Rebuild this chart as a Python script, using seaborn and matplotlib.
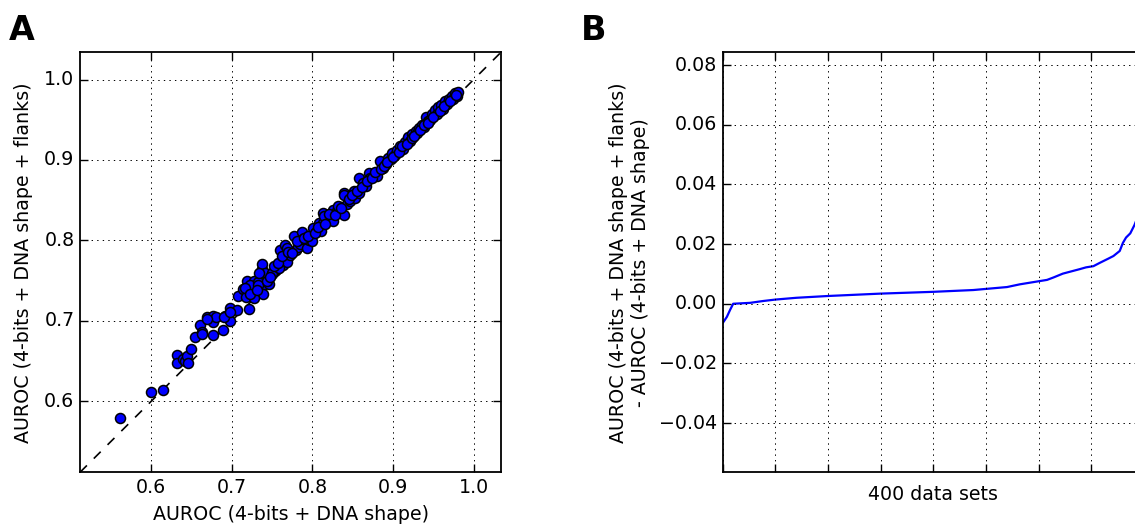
import numpy as np
import pandas as pd
import matplotlib
matplotlib.use("Agg")
import matplotlib.pyplot as plt
import seaborn as sns

# Panel A: AUROC per data set, without vs with flanks
auroc_shape = [0.5615, 0.5996, 0.6145, 0.632, 0.632, 0.639, 0.642, 0.644, 0.646, 0.649,
               0.654, 0.661, 0.663, 0.669, 0.677, 0.677, 0.677, 0.680, 0.689, 0.691,
               0.698, 0.698, 0.706, 0.721, 0.708, 0.714, 0.719, 0.727, 0.717, 0.727,
               0.729, 0.737, 0.737, 0.739, 0.739, 0.736, 0.744, 0.746, 0.724, 0.722,
               0.732, 0.741, 0.750, 0.753, 0.756, 0.760, 0.764, 0.760, 0.766, 0.764,
               0.768, 0.772, 0.777, 0.779, 0.782, 0.785, 0.787, 0.788, 0.793, 0.796,
               0.799, 0.800, 0.801, 0.805, 0.808, 0.810, 0.813, 0.813, 0.818, 0.822,
               0.826, 0.826, 0.830, 0.834, 0.839, 0.839, 0.843, 0.847, 0.851, 0.853,
               0.858, 0.858, 0.863, 0.866, 0.870, 0.872, 0.876, 0.880, 0.884, 0.887,
               0.891, 0.894, 0.897, 0.899, 0.902, 0.905, 0.909, 0.912, 0.915, 0.919,
               0.921, 0.924, 0.928, 0.930, 0.932, 0.936, 0.939, 0.941, 0.943, 0.946,
               0.948, 0.952, 0.954, 0.956, 0.960, 0.962, 0.965, 0.967, 0.969, 0.973,
               0.975, 0.977, 0.979, 0.981, 0.733, 0.727, 0.750, 0.759, 0.768, 0.814,
               0.839, 0.663, 0.669, 0.690, 0.698,
               0.752, 0.757, 0.762, 0.770, 0.775, 0.781, 0.790, 0.795, 0.803, 0.807,
               0.816, 0.820, 0.828, 0.832, 0.836, 0.845, 0.849, 0.855, 0.861, 0.868,
               0.874, 0.878, 0.885, 0.889, 0.893, 0.900, 0.907, 0.911, 0.917, 0.923,
               0.926, 0.934, 0.938, 0.944, 0.950, 0.958, 0.963, 0.971, 0.978, 0.716,
               0.723, 0.731, 0.743, 0.747, 0.734]
auroc_flanks = [0.579, 0.6115, 0.6144, 0.658, 0.648, 0.652, 0.650, 0.656, 0.648, 0.665,
                0.680, 0.695, 0.686, 0.705, 0.706, 0.682, 0.698, 0.705, 0.688, 0.706,
                0.716, 0.700, 0.713, 0.715, 0.731, 0.739, 0.749, 0.749, 0.729, 0.731,
                0.740, 0.765, 0.771, 0.744, 0.733, 0.752, 0.757, 0.746, 0.735, 0.745,
                0.748, 0.760, 0.758, 0.762, 0.765, 0.770, 0.769, 0.788, 0.794, 0.778,
                0.773, 0.782, 0.805, 0.788, 0.792, 0.796, 0.811, 0.802, 0.790, 0.800,
                0.807, 0.799, 0.815, 0.811, 0.822, 0.812, 0.834, 0.822, 0.826, 0.828,
                0.838, 0.824, 0.836, 0.842, 0.859, 0.832, 0.845, 0.849, 0.861, 0.853,
                0.878, 0.859, 0.871, 0.868, 0.884, 0.878, 0.880, 0.880, 0.899, 0.890,
                0.895, 0.903, 0.901, 0.909, 0.906, 0.913, 0.917, 0.914, 0.922, 0.928,
                0.924, 0.932, 0.936, 0.933, 0.940, 0.943, 0.941, 0.953, 0.949, 0.950,
                0.957, 0.962, 0.957, 0.966, 0.968, 0.964, 0.974, 0.970, 0.976, 0.979,
                0.976, 0.983, 0.979, 0.984, 0.744, 0.728, 0.759, 0.766, 0.790, 0.830,
                0.857, 0.684, 0.702, 0.705, 0.711,
                0.768, 0.772, 0.781, 0.786, 0.784, 0.799, 0.803, 0.806, 0.809, 0.817,
                0.820, 0.833, 0.832, 0.843, 0.840, 0.852, 0.856, 0.862, 0.866, 0.874,
                0.877, 0.885, 0.889, 0.893, 0.897, 0.904, 0.910, 0.918, 0.920, 0.927,
                0.930, 0.937, 0.944, 0.946, 0.954, 0.961, 0.967, 0.973, 0.981, 0.741,
                0.733, 0.738, 0.750, 0.754, 0.760]

# Panel B: sorted AUROC differences over the 400 data sets
set_index = [0, 4, 7, 10, 26, 38, 50, 70, 100, 150, 200, 238, 270, 282, 301, 308,
             314, 323, 339, 345, 352, 358, 366, 371, 377, 380, 383, 387, 391, 395, 399]
auroc_diff = [-0.0065, -0.0044, -0.0021, 0.0000, 0.0003, 0.0009, 0.0014, 0.0020,
              0.0026, 0.0034, 0.0040, 0.0046, 0.0056, 0.0065, 0.0076, 0.0080, 0.0088,
              0.0101, 0.0116, 0.0122, 0.0126, 0.0137, 0.0151, 0.0160, 0.0177, 0.0204,
              0.0222, 0.0236, 0.0264, 0.0300, 0.0350]

plt.style.use("classic")
plt.rcParams.update({
    "figure.facecolor": "white",
    "savefig.facecolor": "white",
    "font.family": ["DejaVu Sans"],
    "font.size": 13.7,
    "xtick.labelsize": 13.7,
    "ytick.labelsize": 13.7,
    "axes.labelsize": 13.7,
    "grid.color": "black",
    "grid.linestyle": ":",
    "grid.linewidth": 0.7,
})

fig = plt.figure(figsize=(11.35, 5.27), dpi=100)
ax1 = fig.add_axes([0.0705, 0.1038, 0.3709, 0.797])
ax2 = fig.add_axes([0.6367, 0.1038, 0.3712, 0.797])

# --- A ---
df = pd.DataFrame({"shape": auroc_shape, "flanks": auroc_flanks})
lo = min(df["shape"].min(), df["flanks"].min()) - 0.05
hi = max(df["shape"].max(), df["flanks"].max()) + 0.05
ax1.plot([lo, hi], [lo, hi], color="black", lw=1.2, dashes=(7, 7), zorder=2)
sns.scatterplot(data=df, x="shape", y="flanks", ax=ax1, color="#0000ff",
                edgecolor="black", linewidth=1.1, s=52, zorder=3)
ax1.set_xlim(lo, hi)
ax1.set_ylim(lo, hi)
ax1.set_xticks([0.6, 0.7, 0.8, 0.9, 1.0])
ax1.set_yticks([0.6, 0.7, 0.8, 0.9, 1.0])
ax1.grid(True)
ax1.set_axisbelow(True)
ax1.set_xlabel("AUROC (4-bits + DNA shape)")
ax1.set_ylabel("AUROC (4-bits + DNA shape + flanks)")
ax1.xaxis.set_label_coords(0.5, -0.078)
ax1.yaxis.set_label_coords(-0.112, 0.5)

# --- B ---
sns.lineplot(x=set_index, y=auroc_diff, ax=ax2, color="#0000ff", lw=1.6,
             estimator=None, sort=False)
ax2.set_xlim(0, 400)
ax2.set_ylim(-0.0565, 0.0843)
ax2.set_xticks(np.arange(0, 401, 50))
ax2.set_xticklabels([])
ax2.set_yticks([-0.04, -0.02, 0.0, 0.02, 0.04, 0.06, 0.08])
ax2.grid(True)
ax2.set_xlabel("400 data sets")
ax2.set_ylabel("AUROC (4-bits + DNA shape + flanks)\n- AUROC (4-bits + DNA shape)")
ax2.xaxis.set_label_coords(0.5, -0.03)
ax2.yaxis.set_label_coords(-0.172, 0.5)

for ax in (ax1, ax2):
    ax.tick_params(direction="in", top=True, right=True, length=6, width=1)
    for sp in ax.spines.values():
        sp.set_linewidth(1.3)

fig.text(9 / 1135, 1 - 39.5 / 527, "A", fontsize=24, fontweight="bold", va="baseline")
fig.text(581 / 1135, 1 - 39.5 / 527, "B", fontsize=24, fontweight="bold", va="baseline")

fig.savefig("out.png", dpi=100)
